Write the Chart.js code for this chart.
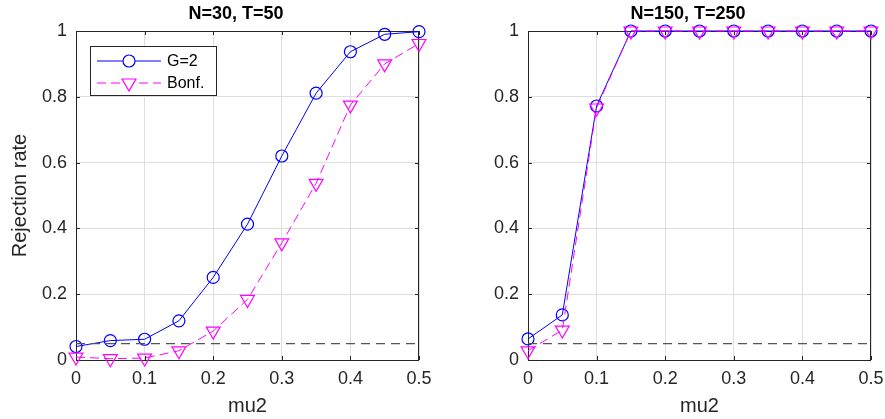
<!DOCTYPE html>
<html>
<head>
<meta charset="utf-8">
<script src="https://cdn.jsdelivr.net/npm/chart.js@4.4.0/dist/chart.umd.min.js"></script>
<style>
  html, body { margin: 0; padding: 0; background: #fff; overflow: hidden; }
  #wrap { position: relative; width: 885px; height: 419px; }
  #leftBox { position: absolute; left: 0; top: 0; width: 445px; height: 419px; }
  #rightBox { position: absolute; left: 445px; top: 0; width: 440px; height: 419px; }
</style>
</head>
<body>
<div id="wrap">
  <div id="leftBox"><canvas id="leftChart" width="445" height="419"></canvas></div>
  <div id="rightBox"><canvas id="rightChart" width="440" height="419"></canvas></div>
</div>
<script>
// DATA
const mu2 = [0, 0.05, 0.1, 0.15, 0.2, 0.25, 0.3, 0.35, 0.4, 0.45, 0.5];

// N=30, T=50
const leftG2 = [0.041, 0.059, 0.063, 0.119, 0.251, 0.413, 0.62, 0.811, 0.937, 0.99, 0.998];
const leftBonf = [0.009, 0.004, 0.006, 0.028, 0.088, 0.184, 0.356, 0.537, 0.775, 0.9, 0.962];

// N=150, T=250
const rightG2 = [0.064, 0.137, 0.772, 1, 1, 1, 1, 1, 1, 1, 1];
const rightBonf = [0.028, 0.091, 0.766, 1, 1, 1, 1, 1, 1, 1, 1];

// nominal level
const refX = [0, 0.5];
const refLevel = [0.05, 0.05];

const xTicks = [0, 0.1, 0.2, 0.3, 0.4, 0.5];
const yTicks = [0, 0.2, 0.4, 0.6, 0.8, 1];

const seriesNames = ["G=2", "Bonf."];

const BLUE = "#0000ff";
const MAGENTA = "#ff00ff";
const AXIS = "#262626";
const FONT = "Arial, 'Liberation Sans', sans-serif";

Chart.defaults.font.family = FONT;
Chart.defaults.color = AXIS;

function pts(xs, ys) {
  return xs.map((x, i) => ({ x: x, y: ys[i] }));
}

// box, inward ticks, title and legend
const framePlugin = {
  id: "frame",
  beforeDatasetsDraw(chart, args, opts) {
    const { ctx, chartArea: a, scales } = chart;
    ctx.save();
    ctx.strokeStyle = AXIS;
    ctx.lineWidth = 1;
    ctx.strokeRect(a.left + 0.5, a.top + 0.5, a.right - a.left - 1, a.bottom - a.top);
    ctx.beginPath();
    xTicks.forEach(v => {
      const px = Math.round(scales.x.getPixelForValue(v)) + 0.5;
      ctx.moveTo(px, a.bottom); ctx.lineTo(px, a.bottom - 4);
      ctx.moveTo(px, a.top); ctx.lineTo(px, a.top + 4);
    });
    yTicks.forEach(v => {
      const py = Math.round(scales.y.getPixelForValue(v)) + 0.5;
      ctx.moveTo(a.left, py); ctx.lineTo(a.left + 4, py);
      ctx.moveTo(a.right, py); ctx.lineTo(a.right - 4, py);
    });
    ctx.stroke();
    ctx.restore();
  },
  afterDraw(chart, args, opts) {
    const { ctx } = chart;
    ctx.save();
    // title
    ctx.fillStyle = "#000";
    ctx.font = "bold 18px " + FONT;
    ctx.textAlign = "center";
    ctx.textBaseline = "alphabetic";
    ctx.fillText(opts.title, opts.titleX, 19);

    // legend
    if (opts.legend) {
      const L = opts.legend;
      ctx.fillStyle = "#fff";
      ctx.fillRect(L.x, L.y, L.w, L.h);
      ctx.strokeStyle = AXIS;
      ctx.lineWidth = 1;
      ctx.strokeRect(L.x + 0.5, L.y + 0.5, L.w, L.h);
      const rows = [
        { name: seriesNames[0], color: BLUE, dash: [], style: "circle", r: 6, rot: 0 },
        { name: seriesNames[1], color: MAGENTA, dash: [9, 5], style: "triangle", r: 8, rot: 180 }
      ];
      rows.forEach((row, i) => {
        const y = L.y + 15 + i * 22;
        ctx.strokeStyle = row.color;
        ctx.lineWidth = 1;
        ctx.setLineDash(row.dash);
        ctx.beginPath();
        ctx.moveTo(L.x + 7, y);
        ctx.lineTo(L.x + 71, y);
        ctx.stroke();
        ctx.setLineDash([]);
        ctx.fillStyle = "#fff";
        ctx.lineWidth = 1.2;
        Chart.helpers.drawPoint(ctx, {
          pointStyle: row.style, radius: row.r, rotation: row.rot, borderWidth: 1.2
        }, L.x + 39, y);
        ctx.fillStyle = "#000";
        ctx.font = "16px " + FONT;
        ctx.textAlign = "left";
        ctx.textBaseline = "middle";
        ctx.fillText(row.name, L.x + 77, y + 1);
      });
    }
    ctx.restore();
  }
};

function makeChart(canvasId, g2, bonf, title, titleX, yLeft, padRight, showYTitle, legend) {
  return new Chart(document.getElementById(canvasId), {
    type: "line",
    data: {
      datasets: [
        {
          label: seriesNames[0],
          data: pts(mu2, g2),
          borderColor: BLUE,
          borderWidth: 1,
          pointStyle: "circle",
          pointRadius: 6,
          pointBorderWidth: 1.2,
          pointBorderColor: BLUE,
          pointBackgroundColor: "rgba(0,0,0,0)",
          clip: false,
          order: 3
        },
        {
          label: seriesNames[1],
          data: pts(mu2, bonf),
          borderColor: MAGENTA,
          borderWidth: 1,
          borderDash: [9, 5],
          pointStyle: "triangle",
          pointRotation: 180,
          pointRadius: 8,
          pointBorderWidth: 1.2,
          pointBorderColor: MAGENTA,
          pointBackgroundColor: "rgba(0,0,0,0)",
          clip: false,
          order: 2
        },
        {
          label: "level",
          data: pts(refX, refLevel),
          borderColor: "#555555",
          borderWidth: 1.3,
          borderDash: [9, 6],
          pointRadius: 0,
          clip: false,
          order: 1
        }
      ]
    },
    options: {
      responsive: false,
      animation: false,
      devicePixelRatio: 1,
      layout: { padding: { top: 31, right: padRight, left: 0, bottom: 0 } },
      plugins: {
        legend: { display: false },
        tooltip: { enabled: false },
        frame: { title: title, titleX: titleX, legend: legend }
      },
      scales: {
        x: {
          type: "linear",
          min: 0,
          max: 0.5,
          afterFit: s => { s.height = 59; s.paddingLeft = 0; s.paddingRight = 0; },
          afterBuildTicks: s => { s.ticks = xTicks.map(v => ({ value: v })); },
          ticks: {
            padding: 8,
            maxRotation: 0,
            color: AXIS,
            font: { size: 18 },
            callback: v => String(+v.toFixed(2))
          },
          grid: { color: "#dedede", drawTicks: false },
          border: { display: false },
          title: {
            display: true,
            text: "mu2",
            color: AXIS,
            font: { size: 20 },
            padding: { top: 0, bottom: 1 }
          }
        },
        y: {
          type: "linear",
          min: 0,
          max: 1,
          afterFit: s => { s.width = yLeft; s.paddingTop = 0; s.paddingBottom = 0; },
          afterBuildTicks: s => { s.ticks = yTicks.map(v => ({ value: v })); },
          ticks: {
            padding: 9,
            color: AXIS,
            font: { size: 18 },
            callback: v => String(+v.toFixed(2))
          },
          grid: { color: "#dedede", drawTicks: false },
          border: { display: false },
          title: {
            display: showYTitle,
            text: "Rejection rate",
            color: AXIS,
            font: { size: 20 },
            padding: { top: 8, bottom: 0 }
          }
        }
      }
    },
    plugins: [framePlugin]
  });
}

makeChart("leftChart", leftG2, leftBonf, "N=30, T=50", 236, 76, 26, true,
  { x: 90, y: 46, w: 126, h: 49 });
makeChart("rightChart", rightG2, rightBonf, "N=150, T=250", 243, 83, 14, false, null);
</script>
</body>
</html>
